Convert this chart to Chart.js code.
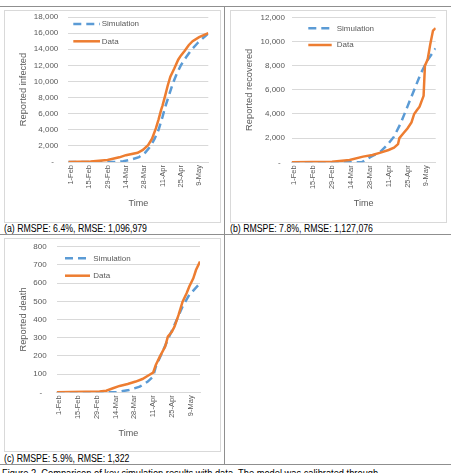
<!DOCTYPE html>
<html><head><meta charset="utf-8">
<script src="https://cdn.jsdelivr.net/npm/chart.js@4.4.0/dist/chart.umd.min.js"></script>
<style>
html,body{margin:0;padding:0;background:#fff}
body{width:451px;height:473px;overflow:hidden;position:relative;font-family:"Liberation Sans",Arial,sans-serif}
.hl{position:absolute;height:1px;background:#8f8f8f}
.vl{position:absolute;width:1px;background:#8f8f8f}
.box{position:absolute;border:1px solid #d9d9d9;box-sizing:border-box}
canvas{position:absolute}
.cap{position:absolute;font-size:10px;line-height:12px;color:#000;white-space:nowrap;transform-origin:0 0;transform:scaleX(0.875)}
</style></head>
<body>
<div class="hl" style="left:0;top:6px;width:451px"></div>
<div class="hl" style="left:0;top:234px;width:451px"></div>
<div class="hl" style="left:0;top:464px;width:451px"></div>
<div class="vl" style="left:224px;top:6px;height:458px"></div>

<div class="box" style="left:4px;top:10px;width:217px;height:213px"></div>
<div class="box" style="left:230px;top:10px;width:217px;height:213px"></div>
<div class="box" style="left:4px;top:238px;width:217px;height:214px"></div>

<canvas id="cA" width="215" height="211" style="left:5px;top:11px"></canvas>
<canvas id="cB" width="215" height="211" style="left:231px;top:11px"></canvas>
<canvas id="cC" width="215" height="211" style="left:5px;top:239px"></canvas>

<div class="cap" style="left:4px;top:223px">(a) RMSPE: 6.4%, RMSE: 1,096,979</div>
<div class="cap" style="left:230px;top:223px">(b) RMSPE: 7.8%, RMSE: 1,127,076</div>
<div class="cap" style="left:4px;top:453px">(c) RMSPE: 5.9%, RMSE: 1,322</div>
<div class="cap" style="left:2px;top:468px;transform:scaleX(0.93)">Figure 2. Comparison of key simulation results with data. The model was calibrated through</div>

<script>
// ---- tick labels (days since 1-Feb) ----
const tickDays = [0, 14, 28, 42, 56, 70, 84, 98];
const tickLabels = ['1-Feb', '15-Feb', '29-Feb', '14-Mar', '28-Mar', '11-Apr', '25-Apr', '9-May'];
const seriesNames = ['Simulation', 'Data'];

// ---- (a) Reported infected ----
const infSimDays = [-2, 34, 40, 46, 52, 57, 61, 64, 67, 70, 72, 75, 78, 81, 84, 88, 92, 97, 105];
const infSimVals = [0, 0, 100, 300, 600, 1200, 2000, 2900, 4000, 5600, 6800, 8300, 9800, 11000, 12000, 13000, 13900, 14800, 15950];
const infDataDays = [-2, 15, 28, 37, 42, 51, 55, 59, 62, 65, 67, 69, 70, 72, 74, 76, 79, 82, 84, 87, 90, 93, 98, 105];
const infDataVals = [0, 60, 250, 580, 850, 1150, 1500, 2100, 2900, 4200, 5300, 6500, 7000, 8200, 9500, 10600, 11600, 12700, 13200, 13800, 14500, 15000, 15500, 16000];

// ---- (b) Reported recovered ----
const recSimDays = [-2, 50, 52, 57, 64, 69, 74, 79, 84, 89, 94, 99, 105];
const recSimVals = [0, 0, 140, 470, 880, 1430, 2120, 3230, 4610, 5990, 7370, 8470, 9430];
const recDataDays = [-2, 28, 41, 51, 58, 64, 70, 74, 77, 78, 81, 84, 87, 89, 91, 93, 96, 97, 99, 101, 103, 105];
const recDataVals = [0, 50, 190, 470, 600, 800, 1020, 1210, 1500, 2000, 2400, 2800, 3300, 4000, 4300, 4600, 5500, 8000, 8500, 9800, 10900, 11100];

// ---- (c) Reported death ----
const deaSimDays = [-2, 42, 52, 60, 66, 70, 72, 77, 82, 87, 92, 97, 105];
const deaSimVals = [0, 0, 13, 31, 59, 86, 141, 223, 306, 388, 471, 535, 599];
const deaDataDays = [-2, 30, 35, 40, 45, 51, 57, 62, 67, 70, 72, 75, 79, 81, 84, 86, 89, 92, 95, 97, 100, 102, 105];
const deaDataVals = [0, 4, 9, 22, 35, 46, 59, 73, 95, 108, 150, 196, 251, 306, 333, 361, 425, 498, 544, 581, 626, 672, 718];

const FONT = '"Liberation Sans", Arial, sans-serif';
const GREY = '#595959';
const BLUE = '#5B9BD5';
const ORANGE = '#ED7D31';

const insideLegend = {
  id: 'insideLegend',
  afterDatasetsDraw(chart, args, o) {
    const {ctx, chartArea} = chart;
    ctx.save();
    chart.data.datasets.forEach((ds, i) => {
      const y = chartArea.top + o.ys[i];
      ctx.strokeStyle = ds.borderColor;
      ctx.lineWidth = ds.borderWidth;
      ctx.setLineDash(ds.borderDash || []);
      ctx.beginPath();
      ctx.moveTo(chartArea.left + o.x0, y);
      ctx.lineTo(chartArea.left + o.x1, y);
      ctx.stroke();
      ctx.setLineDash([]);
      ctx.fillStyle = GREY;
      ctx.font = '8px ' + FONT;
      ctx.textBaseline = 'middle';
      ctx.textAlign = 'left';
      ctx.fillText(ds.label, chartArea.left + o.tx, y);
    });
    ctx.restore();
  }
};

function pts(days, vals) { return days.map((d, i) => ({x: d, y: vals[i]})); }

function makeChart(id, s) {
  new Chart(document.getElementById(id), {
    type: 'line',
    data: {
      datasets: [
        {label: seriesNames[0], data: pts(s.simDays, s.simVals), borderColor: BLUE, borderWidth: 2.5, borderDash: [8, 5], borderCapStyle: 'butt', pointRadius: 0, tension: 0, order: 1, fill: false},
        {label: seriesNames[1], data: pts(s.dataDays, s.dataVals), borderColor: ORANGE, borderWidth: 2.5, pointRadius: 0, tension: 0, order: 0, fill: false}
      ]
    },
    options: {
      responsive: false,
      animation: false,
      layout: {padding: {left: 0, right: s.padRight, top: s.padTop, bottom: 0}},
      plugins: {legend: {display: false}, tooltip: {enabled: false}, insideLegend: s.legend},
      scales: {
        x: {
          type: 'linear', min: -2, max: 105,
          afterBuildTicks: sc => { sc.ticks = tickDays.map(v => ({value: v})); },
          afterFit: sc => { sc.height = s.xHeight; sc.paddingLeft = 0; sc.paddingRight = 0; },
          grid: {display: false, drawTicks: false},
          border: {display: true, color: '#d9d9d9', width: 1},
          ticks: {autoSkip: false, minRotation: 90, maxRotation: 90, padding: 3, color: GREY,
                  font: {family: FONT, size: 7.5},
                  callback: v => tickLabels[tickDays.indexOf(v)]},
          title: {display: true, text: 'Time', color: GREY, font: {family: FONT, size: 9}, padding: {top: 0, bottom: s.xTitlePad}}
        },
        y: {
          min: 0, max: s.yMax,
          afterFit: sc => { sc.width = s.yWidth; sc.paddingTop = 0; sc.paddingBottom = 0; },
          grid: {color: '#d9d9d9', lineWidth: 1, drawTicks: false},
          border: {display: false},
          ticks: {stepSize: s.yStep, padding: s.yTickPad, color: GREY, font: {family: FONT, size: 8},
                  callback: v => v === 0 ? '-  ' : v.toLocaleString('en-US')},
          title: {display: true, text: s.yTitle, color: GREY, font: {family: FONT, size: 9.3}, padding: {top: 12.4, bottom: 0}}
        }
      }
    },
    plugins: [insideLegend]
  });
}

makeChart('cA', {
  simDays: infSimDays, simVals: infSimVals, dataDays: infDataDays, dataVals: infDataVals,
  yMax: 18000, yStep: 2000, yTitle: 'Reported infected',
  yWidth: 63.3, yTickPad: 10, padRight: 11.7, padTop: 6, xHeight: 60, xTitlePad: 12.6,
  legend: {x0: 5, x1: 31.7, tx: 33.4, ys: [7, 24.3]}
});
makeChart('cB', {
  simDays: recSimDays, simVals: recSimVals, dataDays: recDataDays, dataVals: recDataVals,
  yMax: 12000, yStep: 2000, yTitle: 'Reported recovered',
  yWidth: 60.7, yTickPad: 6.7, padRight: 10.3, padTop: 6.3, xHeight: 59.7, xTitlePad: 12.6,
  legend: {x0: 16.6, x1: 40, tx: 45, ys: [11, 27.7]}
});
makeChart('cC', {
  simDays: deaSimDays, simVals: deaSimVals, dataDays: deaDataDays, dataVals: deaDataVals,
  yMax: 800, yStep: 100, yTitle: 'Reported death',
  yWidth: 51.7, yTickPad: 10, padRight: 20, padTop: 7.7, xHeight: 57.7, xTitlePad: 10.6,
  legend: {x0: 8.3, x1: 33.3, tx: 36.6, ys: [11.6, 29]}
});
</script>
</body></html>
